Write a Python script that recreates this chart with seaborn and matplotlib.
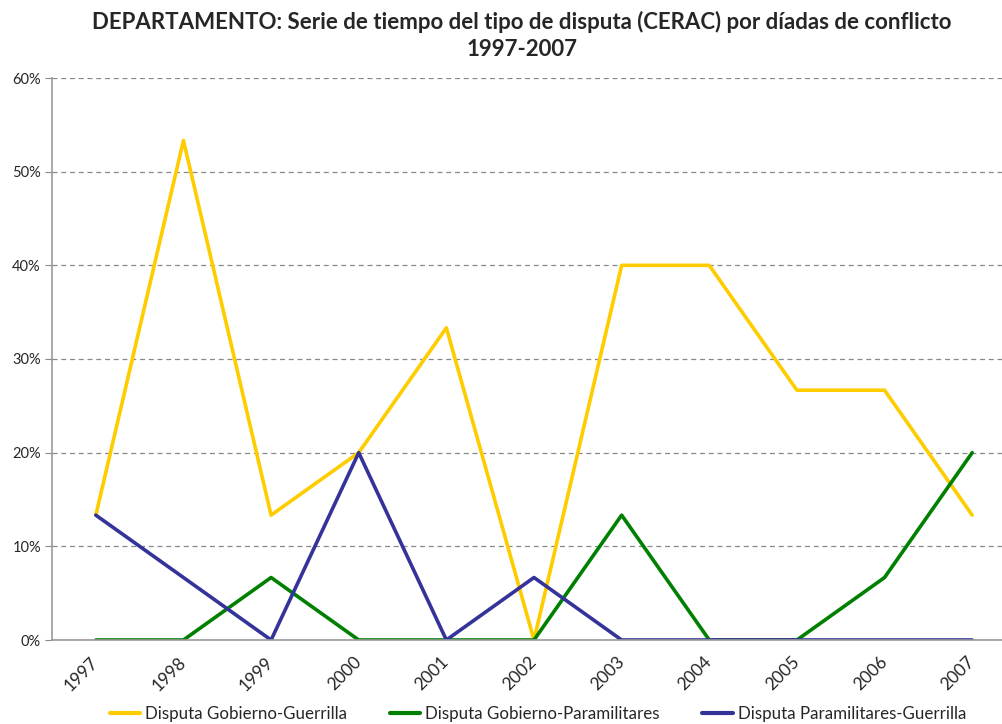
import matplotlib
matplotlib.use("Agg")
import matplotlib.pyplot as plt
import seaborn as sns
import pandas as pd
import numpy as np
from matplotlib.ticker import FuncFormatter

years = ["1997", "1998", "1999", "2000", "2001", "2002", "2003", "2004", "2005", "2006", "2007"]
gob_guerrilla = [13.33, 53.33, 13.33, 20.0, 33.33, 0.0, 40.0, 40.0, 26.67, 26.67, 13.33]
gob_paramilitares = [0.0, 0.0, 6.67, 0.0, 0.0, 0.0, 13.33, 0.0, 0.0, 6.67, 20.0]
para_guerrilla = [13.33, 6.67, 0.0, 20.0, 0.0, 6.67, 0.0, 0.0, 0.0, 0.0, 0.0]
series_names = ["Disputa Gobierno-Guerrilla", "Disputa Gobierno-Paramilitares", "Disputa Paramilitares-Guerrilla"]
colors = ["#FFCC00", "#008000", "#333399"]

df = pd.DataFrame({"year": years,
                   series_names[0]: gob_guerrilla,
                   series_names[1]: gob_paramilitares,
                   series_names[2]: para_guerrilla})
long = df.melt(id_vars="year", var_name="serie", value_name="valor")
long["x"] = long["year"].map({y: i for i, y in enumerate(years)})

sns.set_style("white")
plt.rcParams["font.family"] = ["Lato", "DejaVu Sans"]

fig = plt.figure(figsize=(10.03, 7.24), dpi=100)
ax = fig.add_axes([52 / 1003, 1 - 640 / 724, (1016 - 52) / 1003, (640 - 78) / 724])

sns.lineplot(data=long, x="x", y="valor", hue="serie", hue_order=series_names,
             palette=colors, linewidth=2.6, ax=ax, legend=False)

ax.set_xlim(-0.5, len(years) - 0.5)
ax.set_ylim(0, 60)
ax.set_yticks(np.arange(0, 61, 10))
ax.yaxis.set_major_formatter(FuncFormatter(lambda v, p: f"{int(v)}%"))
ax.set_xticks(np.arange(len(years)))
ax.set_xticklabels(years, rotation=45, ha="right", va="center",
                   rotation_mode="anchor", fontsize=12.5)
ax.tick_params(axis="x", length=0, pad=14)
ax.set_xticks(np.arange(-0.5, len(years), 1), minor=True)
ax.tick_params(axis="x", which="minor", length=5, color="#888888", width=1)
ax.tick_params(axis="y", length=5, color="#888888", left=True, labelsize=10.5, pad=3)
ax.set_xlabel("")
ax.set_ylabel("")
ax.grid(axis="y", color="#888888", linestyle=(0, (4, 3)), linewidth=0.9)
for s in ["top", "right"]:
    ax.spines[s].set_visible(False)
for s in ["left", "bottom"]:
    ax.spines[s].set_color("#999999")
    ax.spines[s].set_linewidth(1.2)

fig.text(522 / 1003, 1 - 22 / 724,
         "DEPARTAMENTO: Serie de tiempo del tipo de disputa (CERAC) por díadas de conflicto",
         ha="center", va="center", fontsize=16, fontweight="bold")
fig.text(522 / 1003, 1 - 50 / 724, "1997-2007",
         ha="center", va="center", fontsize=16, fontweight="bold")

handles = [plt.Line2D([0], [0], color=c, linewidth=3) for c in colors]
fig.legend(handles, series_names, loc="center", bbox_to_anchor=(538 / 1003, 1 - 714 / 724),
           ncol=3, frameon=False, fontsize=12.2, handlelength=1.8, handletextpad=0.3,
           columnspacing=2.5)

fig.savefig("out.png", dpi=100)
